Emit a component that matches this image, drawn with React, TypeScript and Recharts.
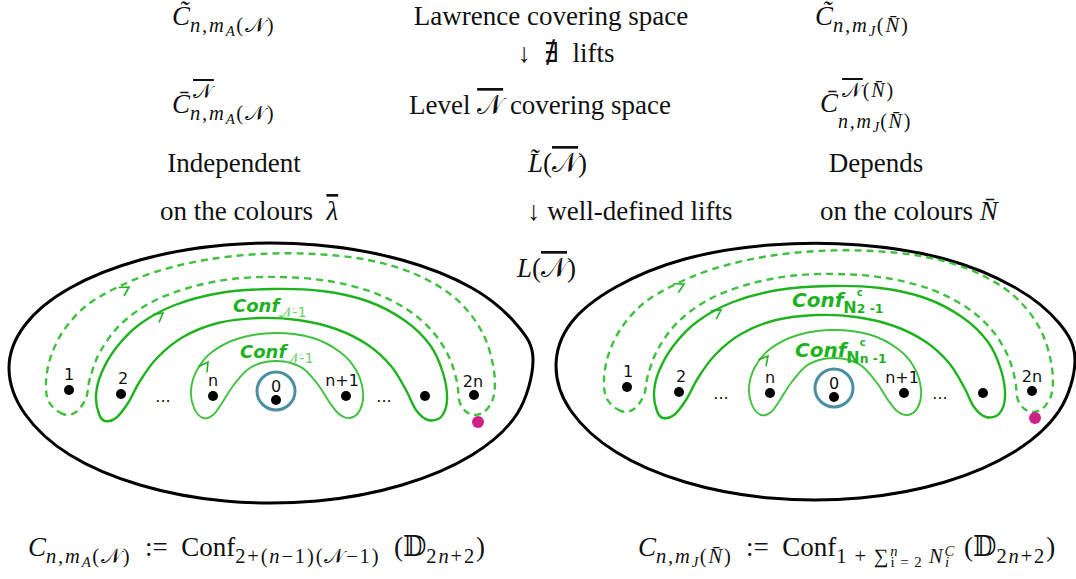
import React from 'react';
import { ComposedChart, Line, Scatter, XAxis, YAxis } from 'recharts';

const W = 1076;
const H = 579;

const SERIF = '"Liberation Serif", "DejaVu Serif", serif';
const SANS = '"DejaVu Sans", sans-serif';
const INK = '#111111';
const GREEN = '#1fb21f';
const LIGHT = '#3fc03f';
const PALE = '#6fcf6f';
const TEAL = '#4a90a0';
const PINK = '#cc2288';

type Pt = { x: number; y: number };
const toPts = (a: number[][]): Pt[] => a.map(([x, y]) => ({ x, y }));

// outlines of the two discs
const leftEllipse = toPts([
  [533, 360], [517, 325], [472, 288], [402, 260], [317, 245], [225, 245], [140, 260], [70, 288], [25, 325],
  [9, 368], [25, 414], [70, 455], [140, 485], [225, 501], [317, 501], [402, 485], [472, 455], [517, 414],
]);
const rightEllipse = toPts([
  [1075, 360], [1059, 323], [1014, 287], [945, 259], [860, 245], [770, 245], [685, 259], [616, 287], [571, 323],
  [556, 366], [571, 411], [616, 452], [685, 482], [770, 498], [860, 498], [945, 482], [1014, 452], [1059, 411],
]);

// dashed loop around 1 and 2n
const leftDashed = toPts([
  [63, 414], [49, 402], [46, 382], [51, 356], [64, 330], [86, 306], [116, 288], [155, 272], [205, 260], [260, 254],
  [315, 254], [368, 260], [415, 274], [455, 298], [481, 330], [493, 365], [494, 395], [484, 412], [470, 414],
  [460, 403], [457, 382], [449, 357], [433, 332], [408, 310], [372, 292], [328, 281], [280, 277], [232, 279],
  [188, 288], [150, 303], [120, 325], [100, 352], [90, 378], [86, 398], [76, 412],
]);
const rightDashed = toPts([
  [621, 411], [607, 399], [604, 379], [609, 353], [622, 327], [644, 303], [674, 285], [713, 269], [763, 257], [818, 251],
  [873, 251], [926, 257], [973, 271], [1013, 295], [1039, 327], [1051, 362], [1052, 392], [1042, 409], [1028, 411],
  [1018, 400], [1015, 379], [1007, 354], [991, 329], [966, 307], [930, 289], [886, 278], [838, 274], [790, 276],
  [746, 285], [708, 300], [678, 322], [658, 349], [648, 375], [644, 395], [634, 409],
]);

// middle loop around 2 and the last dot
const leftMiddle = toPts([
  [99, 414], [96, 396], [101, 374], [116, 348], [140, 324], [175, 305], [220, 293], [272, 289], [322, 291],
  [367, 301], [404, 320], [430, 345], [443, 373], [447, 400], [441, 417], [428, 420], [416, 410], [406, 390],
  [391, 366], [368, 345], [336, 329], [298, 320], [258, 318], [218, 323], [183, 337], [157, 358], [140, 381],
  [128, 403], [116, 418], [105, 421],
]);
const rightMiddle = toPts([
  [657, 411], [654, 393], [659, 371], [674, 345], [698, 321], [733, 302], [778, 290], [830, 286], [880, 288],
  [925, 298], [962, 317], [988, 342], [1001, 370], [1005, 397], [999, 414], [986, 417], [974, 407], [964, 387],
  [949, 363], [926, 342], [894, 326], [856, 317], [816, 315], [776, 320], [741, 334], [715, 355], [698, 378],
  [686, 400], [674, 415], [663, 418],
]);

// inner loop around n and n+1
const leftInner = toPts([
  [203, 418], [194, 408], [191, 390], [197, 370], [212, 352], [240, 338], [276, 333], [313, 338], [340, 352],
  [356, 370], [363, 392], [360, 410], [350, 418], [339, 414], [330, 403], [319, 386], [305, 370], [291, 363],
  [276, 361], [261, 363], [247, 370], [233, 386], [222, 403], [213, 415],
]);
const rightInner = toPts([
  [761, 415], [752, 405], [749, 387], [755, 367], [770, 349], [798, 335], [834, 330], [871, 335], [898, 349],
  [914, 367], [921, 389], [918, 407], [908, 415], [897, 411], [888, 400], [877, 383], [863, 367], [849, 360],
  [834, 358], [819, 360], [805, 367], [791, 383], [780, 400], [771, 412],
]);

const punctures = toPts([
  [69, 390], [121, 394], [213, 396], [276, 400], [346, 396], [425, 396], [474, 395],
  [627, 387], [679, 392], [770, 393], [834, 397], [904, 393], [983, 393], [1032, 391],
]);
const basePoints = toPts([[478, 422], [1035, 418]]);
const zeroCircles = toPts([[276, 391], [834, 388]]);

const pointNames = [
  { x: 69, y: 380, t: '1' }, { x: 123, y: 384, t: '2' }, { x: 213, y: 386, t: 'n' }, { x: 276, y: 392, t: '0' },
  { x: 342, y: 386, t: 'n+1' }, { x: 473, y: 387, t: '2n' }, { x: 163, y: 402, t: '...' }, { x: 384, y: 402, t: '...' },
  { x: 628, y: 377, t: '1' }, { x: 681, y: 382, t: '2' }, { x: 770, y: 383, t: 'n' }, { x: 834, y: 389, t: '0' },
  { x: 902, y: 383, t: 'n+1' }, { x: 1032, y: 382, t: '2n' }, { x: 721, y: 399, t: '...' }, { x: 940, y: 399, t: '...' },
];

const arrowHeads = [
  { x: 129, y: 287, a: -32 }, { x: 163, y: 313, a: -38 }, { x: 208, y: 362, a: -55 },
  { x: 684, y: 284, a: -28 }, { x: 721, y: 310, a: -33 }, { x: 768, y: 356, a: -50 },
];

type Part = [string, string, number?];
type Label = { x: number; y: number; size: number; anchor?: string; parts: Part[] };

const mathLabels: Label[] = [
  { x: 172, y: 25, size: 27, parts: [['C\u0303', 'i0'], ['n,m', 'i1'], ['A', 'i2'], ['(', 'r1'], ['𝒩', 'n1'], [')', 'r1']] },
  { x: 551, y: 25, size: 27, anchor: 'middle', parts: [['Lawrence covering space', 'r0']] },
  { x: 815, y: 25, size: 27, parts: [['C\u0303', 'i0'], ['n,m', 'i1'], ['J', 'i2'], ['(', 'r1'], ['N\u0304', 'i1'], [')', 'r1']] },
  { x: 566, y: 62, size: 27, anchor: 'middle', parts: [['↓  ∄  lifts', 'r0']] },
  { x: 172, y: 113, size: 27, parts: [['C\u0304', 'i0'], ['n,m', 'i1'], ['A', 'i2'], ['(', 'r1'], ['𝒩', 'n1'], [')', 'r1']] },
  { x: 193, y: 98, size: 27, parts: [['𝒩', 'o5']] },
  { x: 540, y: 114, size: 27, anchor: 'middle', parts: [['Level ', 'r0'], ['𝒩', 'o0'], [' covering space', 'r0']] },
  { x: 820, y: 112, size: 27, parts: [['C\u0304', 'i0']] },
  { x: 842, y: 97, size: 27, parts: [['𝒩', 'o5'], ['(', 'r5'], ['N\u0304', 'i5'], [')', 'r5']] },
  { x: 838, y: 128, size: 27, parts: [['n,m', 'i5'], ['J', 'i8'], ['(', 'r5'], ['N\u0304', 'i5'], [')', 'r5']] },
  { x: 234, y: 172, size: 27, anchor: 'middle', parts: [['Independent', 'r0']] },
  { x: 528, y: 172, size: 27, parts: [['L\u0303', 'i0'], ['(', 'r0'], ['𝒩', 'o0'], [')', 'r0']] },
  { x: 876, y: 172, size: 27, anchor: 'middle', parts: [['Depends', 'r0']] },
  { x: 160, y: 220, size: 27, parts: [['on the colours  ', 'r0'], ['λ', 'q0']] },
  { x: 527, y: 220, size: 27, parts: [['↓ well-defined lifts', 'r0']] },
  { x: 820, y: 220, size: 27, parts: [['on the colours ', 'r0'], ['N\u0304', 'i0']] },
  { x: 517, y: 277, size: 27, parts: [['L', 'i0'], ['(', 'r0'], ['𝒩', 'o0'], [')', 'r0']] },
  {
    x: 28, y: 556, size: 27,
    parts: [['C', 'i0'], ['n,m', 'i1'], ['A', 'i2'], ['(', 'r1'], ['𝒩', 'n1'], [')', 'r1'], ['\u2002:=\u2002Conf', 'r0'],
      ['2+(', 'r1'], ['n', 'i1'], ['−1)(', 'r1'], ['𝒩', 'n1'], ['−1)', 'r1'],
      ['  (𝔻', 'r0'], ['2', 'r1'], ['n', 'i1'], ['+2', 'r1'], [')', 'r0']],
  },
  {
    x: 638, y: 556, size: 27,
    parts: [['C', 'i0'], ['n,m', 'i1'], ['J', 'i2'], ['(', 'r1'], ['N\u0304', 'i1'], [')', 'r1'], ['\u2002:=\u2002Conf', 'r0'],
      ['1\u2009+\u2009', 'r1'], ['∑', 'r1'], ['n', 'i3'], ['i\u2009=\u20092', 'r2', -8], ['\u2009N', 'i1'], ['C', 'i3'],
      ['i', 'i2', -10], ['  (𝔻', 'r0'], ['2', 'r1'], ['n', 'i1'], ['+2', 'r1'], [')', 'r0']],
  },
];

const confLabels: Label[] = [
  { x: 233, y: 312, size: 18, parts: [['Conf', 'c0'], ['𝒩', 'm9'], ['-1', 'l9']] },
  { x: 240, y: 358, size: 18, parts: [['Conf', 'c0'], ['𝒩', 'm9'], ['-1', 'l9']] },
  { x: 792, y: 307, size: 20, parts: [['Conf', 'c0'], ['N', 'g9'], ['c', 'g6'], ['2', 'g7', -6], [' -1', 'g7']] },
  { x: 795, y: 357, size: 20, parts: [['Conf', 'c0'], ['N', 'g9'], ['c', 'g6'], ['n', 'g7', -6], [' -1', 'g7']] },
];

// baseline offset, size and letter spacing, relative to the label size
const LEVELS: Record<string, [number, number, number]> = {
  '0': [0, 1, 0], '1': [0.27, 0.76, 0.09], '2': [0.42, 0.55, 0.09], '3': [0, 0.54, 0.06], '5': [0, 0.74, 0.09],
  '6': [-0.55, 0.5, 0], '7': [0.28, 0.62, 0], '8': [0.16, 0.54, 0.06], '9': [0.28, 0.8, 0],
};

const FACES: Record<string, any> = {
  r: { fontFamily: SERIF, fill: INK },
  i: { fontFamily: SERIF, fontStyle: 'italic', fill: INK },
  n: { fontFamily: SERIF, fill: INK },
  o: { fontFamily: SERIF, fill: INK, style: { textDecoration: 'overline' } },
  q: { fontFamily: SERIF, fontStyle: 'italic', fill: INK, style: { textDecoration: 'overline' } },
  c: { fontFamily: SANS, fontStyle: 'italic', fontWeight: 700, fill: GREEN },
  m: { fontFamily: SERIF, fill: PALE },
  l: { fontFamily: SANS, fill: PALE },
  g: { fontFamily: SANS, fontWeight: 700, fill: GREEN },
};

// closed Catmull-Rom through the listed points
const closedSmooth = (ctx: any) => {
  let pts: number[][] = [];
  return {
    areaStart() {},
    areaEnd() {},
    lineStart() {
      pts = [];
    },
    point(x: number, y: number) {
      pts.push([+x, +y]);
    },
    lineEnd() {
      const n = pts.length;
      if (n < 3) return;
      ctx.moveTo(pts[0][0], pts[0][1]);
      for (let i = 0; i < n; i++) {
        const a = pts[(i + n - 1) % n];
        const b = pts[i];
        const c = pts[(i + 1) % n];
        const d = pts[(i + 2) % n];
        ctx.bezierCurveTo(
          b[0] + (c[0] - a[0]) / 6, b[1] + (c[1] - a[1]) / 6,
          c[0] - (d[0] - b[0]) / 6, c[1] - (d[1] - b[1]) / 6,
          c[0], c[1],
        );
      }
      ctx.closePath();
    },
  };
};

const RichText = (props: any) => {
  const { cx, cy, payload } = props;
  const lab: Label = payload;
  let cur = 0;
  return (
    <text x={cx} y={cy} textAnchor={lab.anchor || 'start'} style={{ whiteSpace: 'pre' }}>
      {lab.parts.map(([t, code, dx], i) => {
        const [off, sc, ls] = LEVELS[code[1]];
        const dy = off * lab.size - cur;
        cur = off * lab.size;
        const fs = sc * lab.size;
        return (
          <tspan key={i} dy={dy} dx={dx || 0} fontSize={fs} letterSpacing={ls * fs} {...FACES[code[0]]}>
            {t}
          </tspan>
        );
      })}
    </text>
  );
};

const PointName = (props: any) => (
  <text x={props.cx} y={props.cy} textAnchor="middle" fontFamily={SANS} fontSize={16} fill={INK}>
    {props.payload.t}
  </text>
);

const Chevron = (props: any) => (
  <path
    d="M -9 -5 L 0 0 L -9 5"
    transform={`translate(${props.cx},${props.cy}) rotate(${props.payload.a})`}
    fill="none"
    stroke={GREEN}
    strokeWidth={1.6}
  />
);

const loop = (data: Pt[], stroke: string, width: number, dash?: string, key?: string) => (
  <Line
    key={key}
    data={data}
    dataKey="y"
    type={closedSmooth as any}
    stroke={stroke}
    strokeWidth={width}
    strokeDasharray={dash}
    dot={false}
    activeDot={false}
    isAnimationActive={false}
  />
);

export default function App() {
  return (
    <div style={{ position: 'absolute', left: 0, top: 0, width: W, height: H, background: '#ffffff' }}>
      <ComposedChart width={W} height={H} margin={{ top: 0, right: 0, bottom: 0, left: 0 }}>
        <XAxis type="number" dataKey="x" domain={[0, W]} hide allowDataOverflow />
        <YAxis type="number" dataKey="y" domain={[0, H]} hide allowDataOverflow reversed />
        {loop(leftEllipse, '#000000', 3, undefined, 'le')}
        {loop(rightEllipse, '#000000', 3, undefined, 're')}
        {loop(leftDashed, LIGHT, 2.4, '7 5', 'ld')}
        {loop(rightDashed, LIGHT, 2.4, '7 5', 'rd')}
        {loop(leftMiddle, GREEN, 2.4, undefined, 'lm')}
        {loop(rightMiddle, GREEN, 2.4, undefined, 'rm')}
        {loop(leftInner, LIGHT, 1.9, undefined, 'li')}
        {loop(rightInner, LIGHT, 1.9, undefined, 'ri')}
        <Scatter
          data={zeroCircles}
          isAnimationActive={false}
          shape={(p: any) => <circle cx={p.cx} cy={p.cy} r={19} fill="none" stroke={TEAL} strokeWidth={3} />}
        />
        <Scatter
          data={punctures}
          isAnimationActive={false}
          shape={(p: any) => <circle cx={p.cx} cy={p.cy} r={5} fill="#000000" />}
        />
        <Scatter
          data={basePoints}
          isAnimationActive={false}
          shape={(p: any) => <circle cx={p.cx} cy={p.cy} r={6} fill={PINK} />}
        />
        <Scatter data={arrowHeads} isAnimationActive={false} shape={Chevron} />
        <Scatter data={pointNames} isAnimationActive={false} shape={PointName} />
        <Scatter data={confLabels} isAnimationActive={false} shape={RichText} />
        <Scatter data={mathLabels} isAnimationActive={false} shape={RichText} />
      </ComposedChart>
    </div>
  );
}
